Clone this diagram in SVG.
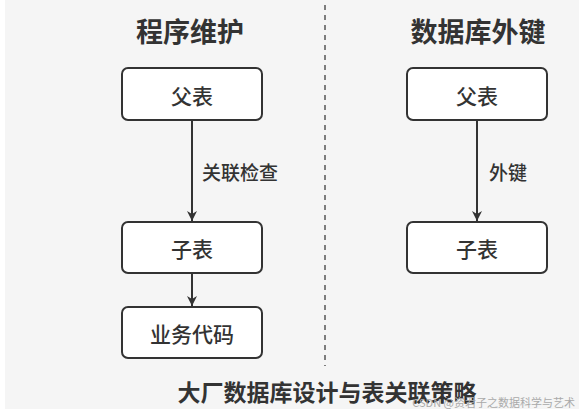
<svg xmlns="http://www.w3.org/2000/svg" width="579" height="411" viewBox="0 0 579 411">
<defs>
<marker id="arr" viewBox="0 0 10 10" refX="10" refY="5" markerWidth="10" markerHeight="10" markerUnits="userSpaceOnUse" orient="auto">
<path d="M0,0 L10,5 L0,10 L3,5 Z" fill="#333"/>
</marker>
</defs>
<style>
text{font-family:"Noto Sans CJK SC","Noto Sans",sans-serif;fill:#333;}
.title{font-size:27px;font-weight:700;text-anchor:middle;}
.box{fill:#fff;stroke:#333;stroke-width:2;}
.lbl{font-size:21px;font-weight:500;text-anchor:middle;dominant-baseline:central;}
.edge{font-size:19px;font-weight:500;}
.line{stroke:#333;stroke-width:2;fill:none;}
</style>
<rect x="0" y="0" width="579" height="411" fill="#fff"/>
<rect x="5" y="0" width="574" height="409" fill="#f5f5f5"/>
<line x1="325" y1="5" x2="325" y2="366" stroke="#555" stroke-width="1.5" stroke-dasharray="5,5"/>
<text class="title" x="190" y="42">程序维护</text>
<text class="title" x="478" y="42">数据库外键</text>
<g id="left-parent"><rect class="box" x="122" y="68" width="140" height="52" rx="6"/><text class="lbl" x="192" y="95">父表</text></g>
<g id="left-child"><rect class="box" x="122" y="222" width="140" height="51" rx="6"/><text class="lbl" x="192" y="248">子表</text></g>
<g id="left-code"><rect class="box" x="122" y="307" width="140" height="51" rx="6"/><text class="lbl" x="192" y="333">业务代码</text></g>
<g id="right-parent"><rect class="box" x="407" y="68" width="140" height="52" rx="6"/><text class="lbl" x="477" y="95">父表</text></g>
<g id="right-child"><rect class="box" x="407" y="222" width="140" height="51" rx="6"/><text class="lbl" x="477" y="248">子表</text></g>
<g id="connectors">
<line class="line" x1="192" y1="120" x2="192" y2="221" marker-end="url(#arr)"/>
<line class="line" x1="192" y1="273" x2="192" y2="306" marker-end="url(#arr)"/>
<line class="line" x1="477" y1="120" x2="477" y2="221" marker-end="url(#arr)"/>
<text class="edge" x="202" y="180">关联检查</text>
<text class="edge" x="489" y="180">外键</text>
</g>
<text x="327" y="401" style="font-size:23px;font-weight:700;text-anchor:middle;">大厂数据库设计与表关联策略</text>
<text x="575" y="407" style="font-size:11px;text-anchor:end;fill:#aaa;">CSDN @资君子之数据科学与艺术</text>
</svg>
